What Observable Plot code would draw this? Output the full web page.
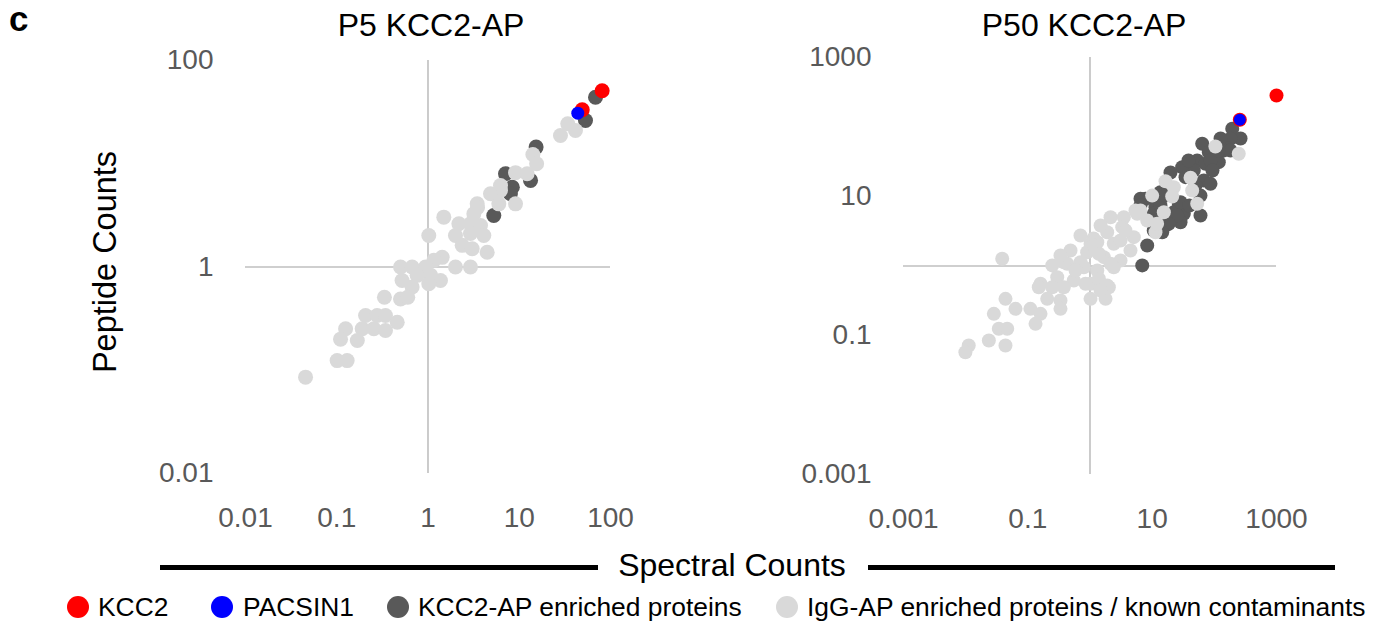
<!DOCTYPE html>
<html>
<head>
<meta charset="utf-8">
<script src="https://cdn.jsdelivr.net/npm/d3@7"></script>
<script src="https://cdn.jsdelivr.net/npm/@observablehq/plot@0.6"></script>
<style>
  html, body { margin: 0; padding: 0; background: #fff; }
  #root { position: relative; width: 1387px; height: 625px; overflow: hidden; font-family: "Liberation Sans", Arial, sans-serif; }
  .abs { position: absolute; white-space: nowrap; }
  .title { font-size: 32px; color: #000; transform: translateX(-50%); }
  .leg { font-size: 26.4px; color: #000; line-height: 30px; }
  .sw { position: absolute; width: 22px; height: 22px; border-radius: 50%; }
  .bar { position: absolute; height: 5px; background: #000; }
</style>
</head>
<body>
<div id="root"></div>
<script>
// ---- Data ----
const titles = ["P5 KCC2-AP", "P50 KCC2-AP"];
const yAxisTitle = "Peptide Counts";
const xAxisTitle = "Spectral Counts";
const seriesNames = ["KCC2", "PACSIN1", "KCC2-AP enriched proteins", "IgG-AP enriched proteins / known contaminants"];
const seriesColors = ["#ff0000", "#0000ff", "#595959", "#d9d9d9"];

const p5XTicks = [0.01, 0.1, 1, 10, 100];
const p5YTicks = [0.01, 1, 100];
const p50XTicks = [0.001, 0.1, 10, 1000];
const p50YTicks = [0.001, 0.1, 10, 1000];

// [spectral counts, peptide counts]
const p5KCC2 = [[81, 51], [49, 33.3]];
const p5PACSIN1 = [[43.8, 30.9]];
const p5Enriched = [[68.5, 44], [53.2, 26.2], [15.3, 14.5], [7.07, 8.0], [13.3, 6.9], [8.4, 5.93], [8.0, 5.12], [5.26, 3.15]];
const p5IgG = [
  [34, 24.4], [41.3, 21], [28.3, 18.8], [14.1, 12.3], [15.5, 10], [9.1, 8.2], [12.2, 8.0], [6.23, 6.16],
  [6.23, 5.5], [4.84, 5.12], [9.1, 4.09], [5.97, 4.09], [3.46, 4.09], [3.49, 3.77], [1.49, 3.04], [3.18, 3.27],
  [2.18, 2.62], [2.92, 2.62], [3.76, 2.52], [4.09, 2.02], [2.92, 2.11], [2.0, 2.02], [1.02, 2.02], [2.37, 1.62],
  [3.05, 1.5], [4.45, 1.39], [1.43, 1.24], [2.0, 1.0], [2.92, 1.0], [1.16, 1.16], [0.94, 1.0], [0.5, 1.0],
  [0.67, 1.0], [0.76, 0.83], [1.07, 0.83], [1.37, 0.74], [0.52, 0.74], [0.67, 0.64], [0.333, 0.51], [1.02, 0.69],
  [0.5, 0.49], [0.6, 0.51], [0.207, 0.339], [0.277, 0.339], [0.342, 0.339], [0.46, 0.292], [0.125, 0.252],
  [0.19, 0.252], [0.255, 0.252], [0.342, 0.243], [0.11, 0.2], [0.168, 0.194], [0.101, 0.124], [0.13, 0.124],
  [0.0455, 0.0857]
];

const p50KCC2 = [[1000, 284], [257, 127]];
const p50PACSIN1 = [[257, 127]];
const p50Enriched = [
  [194, 94.2], [264, 68.3], [182, 67.7], [151, 51.2], [63.8, 57.3], [81.5, 43.4], [140, 45.9], [53, 33.0],
  [72.1, 29.6], [118, 31.2], [46.7, 23.7], [30.4, 26.4], [34.4, 19.0], [67.7, 17.0], [86.7, 15.2], [59.9, 10.3],
  [13.6, 11.5], [7.8, 9.27], [26.8, 7.85], [11.3, 7.0], [22.3, 5.94], [32.3, 5.64], [28.6, 4.27], [28.6, 8.28],
  [19.7, 4.52], [16.4, 3.83], [10.6, 5.64], [25.3, 5.33], [18.5, 4.05], [14.5, 3.06], [10.6, 3.24], [8.32, 1.97],
  [6.92, 1.02], [6.49, 9.27], [86.7, 33], [126, 68.3], [182, 45.9], [93.4, 23.7], [38.4, 33], [49.8, 14.4],
  [19.7, 22.1], [13.6, 7.42], [9.4, 4.52], [39.8, 7.42], [59.9, 5.33], [6.49, 7.42], [16.4, 10.3], [117, 45.9]
];
const p50IgG = [
  [247, 41.2], [104, 52.4], [41.4, 18.6], [16.4, 16.6], [44, 12.2], [22.3, 13.6], [10, 10.3], [21, 10],
  [53, 7.85], [5.39, 6.29], [6.49, 6.29], [15.4, 5.94], [5.74, 5.64], [2.14, 5.04], [3.5, 5.04], [11.3, 3.06],
  [1.89, 3.06], [1.14, 2.49], [8.32, 4.52], [12.0, 4.05], [3.3, 3.62], [5.07, 2.6], [1.31, 2.2], [2.41, 2.09],
  [4.48, 1.67], [0.486, 1.67], [0.9, 1.58], [1.67, 1.34], [3.1, 1.2], [0.247, 1.02], [0.43, 1.08], [0.795, 0.96],
  [1.31, 0.86], [2.41, 0.96], [0.16, 0.555], [0.297, 0.69], [0.548, 0.618], [1.02, 0.555], [1.89, 0.524],
  [0.0387, 1.27], [0.379, 1.13], [1.02, 2.09], [1.15, 1.97], [1.39, 1.5], [0.703, 1.13], [2.14, 1.08],
  [0.847, 0.555], [1.39, 0.655], [2.01, 0.495], [0.15, 0.495], [0.247, 0.495], [0.379, 0.495], [0.205, 0.337],
  [0.335, 0.319], [0.335, 0.242], [1.02, 0.337], [1.78, 0.337], [0.11, 0.242], [0.16, 0.205], [0.133, 0.147],
  [0.0437, 0.337], [0.0633, 0.242], [0.0284, 0.205], [0.0341, 0.125], [0.0466, 0.125], [0.0236, 0.0847],
  [0.0437, 0.0718], [0.0112, 0.0718], [0.0099, 0.0575], [1.48, 3.83], [0.703, 2.75], [3.1, 2.33], [0.585, 0.86],
  [1.48, 0.444], [3.72, 3.24], [0.335, 1.42]
];

// ---- Drawing ----
const root = document.getElementById("root");
const fmt = d => String(d);

function panel(cfg) {
  const {left, width, height, mL, mR, mT, mB, domX, domY, xTicks, yTicks, r, kcc2, pacsin, enriched, igg} = cfg;
  const gridStyle = {stroke: "#bfbfbf", strokeWidth: 1.6};
  const chart = Plot.plot({
    width, height,
    marginLeft: mL, marginRight: mR, marginTop: mT, marginBottom: mB,
    style: {fontFamily: '"Liberation Sans", Arial, sans-serif', fontSize: "28px", background: "transparent", overflow: "visible"},
    x: {type: "log", domain: domX, axis: null},
    y: {type: "log", domain: domY, axis: null},
    marks: [
      Plot.ruleX([1], gridStyle),
      Plot.ruleY([1], gridStyle),
      Plot.axisY({ticks: yTicks, tickSize: 0, tickPadding: 32, tickFormat: fmt, fill: "#595959", label: null}),
      Plot.axisX({ticks: xTicks, tickSize: 0, tickPadding: 34, tickFormat: fmt, fill: "#595959", label: null}),
      Plot.dot(enriched, {x: d => d[0], y: d => d[1], r, fill: seriesColors[2]}),
      Plot.dot(igg, {x: d => d[0], y: d => d[1], r, fill: seriesColors[3]}),
      Plot.dot(kcc2, {x: d => d[0], y: d => d[1], r, fill: seriesColors[0]}),
      Plot.dot(pacsin, {x: d => d[0], y: d => d[1], r: r - 1, fill: seriesColors[1]})
    ]
  });
  chart.style.position = "absolute";
  chart.style.left = left + "px";
  chart.style.top = "0px";
  root.appendChild(chart);
}

panel({left: 0, width: 660, height: 540, mL: 245, mR: 50, mT: 60, mB: 67,
  domX: [0.01, 100], domY: [0.01, 100], xTicks: p5XTicks, yTicks: p5YTicks, r: 7.5,
  kcc2: p5KCC2, pacsin: p5PACSIN1, enriched: p5Enriched, igg: p5IgG});
panel({left: 660, width: 727, height: 540, mL: 243, mR: 111, mT: 57, mB: 66,
  domX: [0.001, 1000], domY: [0.001, 1000], xTicks: p50XTicks, yTicks: p50YTicks, r: 7,
  kcc2: p50KCC2, pacsin: p50PACSIN1, enriched: p50Enriched, igg: p50IgG});

function addText(text, cls, css) {
  const el = document.createElement("div");
  el.className = "abs " + (cls || "");
  el.textContent = text;
  Object.assign(el.style, css);
  root.appendChild(el);
  return el;
}

addText("c", "", {left: "9px", top: "0px", fontSize: "35px", fontWeight: "bold", lineHeight: "38px"});
addText(titles[0], "title", {left: "431px", top: "7px"});
addText(titles[1], "title", {left: "1084px", top: "7px"});
addText(yAxisTitle, "", {left: "105px", top: "262px", fontSize: "32.5px", transform: "translate(-50%,-50%) rotate(-90deg)"});
addText(xAxisTitle, "", {left: "732px", top: "547px", fontSize: "32px", transform: "translateX(-50%)"});

const b1 = document.createElement("div"); b1.className = "bar";
Object.assign(b1.style, {left: "160px", width: "438px", top: "565px"}); root.appendChild(b1);
const b2 = document.createElement("div"); b2.className = "bar";
Object.assign(b2.style, {left: "868px", width: "467px", top: "565px"}); root.appendChild(b2);

const swCenters = [78, 222, 398, 787];
const textLefts = [98, 243, 418, 807];
seriesNames.forEach((name, i) => {
  const sw = document.createElement("div");
  sw.className = "sw";
  Object.assign(sw.style, {left: (swCenters[i] - 11) + "px", top: "596px", background: seriesColors[i]});
  root.appendChild(sw);
  addText(name, "leg", {left: textLefts[i] + "px", top: "592px"});
});
</script>
</body>
</html>
